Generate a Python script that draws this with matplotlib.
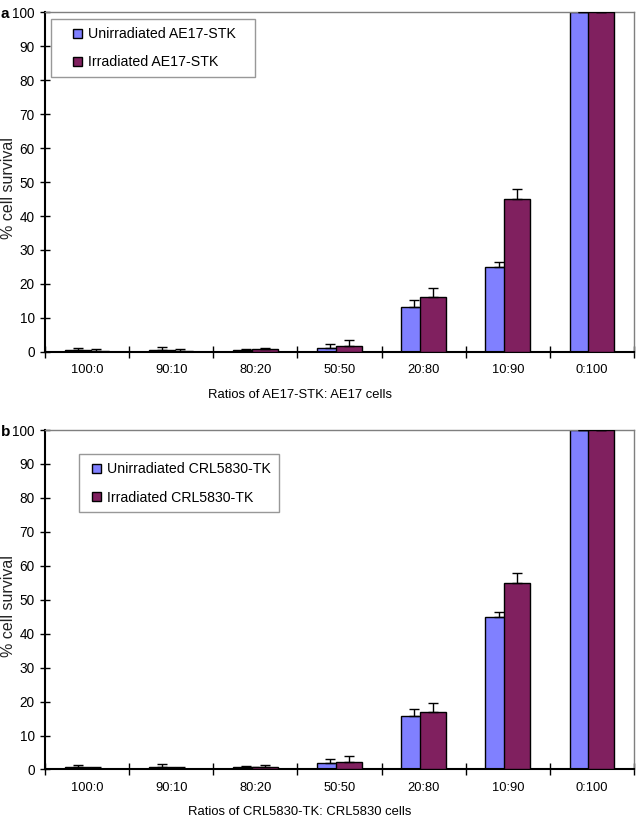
import numpy as np
import matplotlib
matplotlib.use('Agg')
import matplotlib.pyplot as plt
from matplotlib.patches import Patch, Rectangle
from matplotlib.legend_handler import HandlerPatch

plt.rcParams['font.family'] = ['Liberation Sans', 'DejaVu Sans']

# ratios on the x axis (same for both panels)
ratios = ['100:0', '90:10', '80:20', '50:50', '20:80', '10:90', '0:100']

# panel a - AE17-STK
a_unirr = [0.7, 0.7, 0.7, 1.2, 13.1, 25.1, 100]
a_unirr_err = [0.6, 0.9, 0.2, 1.2, 2.1, 1.5, 0]
a_irr = [0.2, 0.2, 0.8, 1.7, 16.3, 45.0, 100]
a_irr_err = [0.6, 0.6, 0.5, 1.7, 2.4, 2.8, 0]

# panel b - CRL5830-TK
b_unirr = [0.7, 0.7, 0.7, 2.0, 15.7, 45.0, 100]
b_unirr_err = [0.6, 0.9, 0.2, 1.2, 2.0, 1.5, 0]
b_irr = [0.2, 0.2, 0.8, 2.3, 17.0, 55.0, 100]
b_irr_err = [0.6, 0.6, 0.5, 1.7, 2.6, 2.8, 0]

blue = '#8080ff'
maroon = '#80205f'


# small square legend key sitting at the right end of the handle box
def square_key(legend, orig_handle, xdescent, ydescent, width, height, fontsize):
    s = 9 * 72 / 100.0
    return Rectangle((width - s - xdescent, (height - s) / 2 - ydescent), s, s)


def draw_panel(ax, unirr, unirr_err, irr, irr_err, labels, xlabel, legend_pos,
               letter, hlen, tail):
    x = np.arange(len(ratios))
    w = 0.31
    off = 0.11
    zero = np.zeros(len(x))

    # blue bars first, maroon drawn on top (overlapping like excel)
    ax.bar(x - off, unirr, w, color=blue, edgecolor='black', linewidth=1.0, zorder=2)
    ax.errorbar(x - off, unirr, yerr=[zero, unirr_err], fmt='none', ecolor='black',
                elinewidth=1.0, capsize=3.5, capthick=1.0, zorder=3)
    ax.bar(x + off, irr, w, color=maroon, edgecolor='black', linewidth=1.0, zorder=4)
    ax.errorbar(x + off, irr, yerr=[zero, irr_err], fmt='none', ecolor='black',
                elinewidth=1.0, capsize=3.5, capthick=1.0, zorder=5)

    ax.set_xlim(-0.5, len(ratios) - 0.5)
    ax.set_ylim(0, 100)
    ax.set_yticks(np.arange(0, 101, 10))
    ax.tick_params(axis='y', direction='inout', length=7, width=1, labelsize=9.8, pad=4)

    # ticks at the category boundaries, labels in the middle
    ax.set_xticks(np.arange(-0.5, len(ratios), 1.0))
    ax.set_xticklabels([])
    ax.set_xticks(x, minor=True)
    ax.set_xticklabels(ratios, minor=True)
    ax.tick_params(axis='x', which='major', direction='inout', length=8, width=1)
    ax.tick_params(axis='x', which='minor', length=0, labelsize=9.3, pad=9)

    for s in ['left', 'bottom']:
        ax.spines[s].set_color('black')
        ax.spines[s].set_linewidth(1.5)
    for s in ['top', 'right']:
        ax.spines[s].set_color('#7f7f7f')
        ax.spines[s].set_linewidth(1.0)

    ax.set_ylabel('% cell survival', fontsize=11.5, color='#222222')
    ax.yaxis.set_label_coords(-0.050, 0.482)
    ax.set_xlabel(xlabel, fontsize=9.4)
    ax.xaxis.set_label_coords(0.433, -0.108)

    handles = [Patch(facecolor=blue, edgecolor='black', linewidth=1.0),
               Patch(facecolor=maroon, edgecolor='black', linewidth=1.0)]
    leg = ax.legend(handles, [l + tail for l in labels], loc='upper left',
                    bbox_to_anchor=legend_pos, fontsize=10.2, frameon=True,
                    fancybox=False, borderaxespad=0,
                    handler_map={Patch: HandlerPatch(patch_func=square_key)},
                    handlelength=hlen, handleheight=0.7, handletextpad=0.42,
                    labelspacing=1.0, borderpad=0.56)
    leg.get_frame().set_edgecolor('#7f7f7f')
    leg.get_frame().set_linewidth(1.0)

    ax.text(-0.075, 0.995, letter, transform=ax.transAxes, fontsize=11,
            fontweight='bold', va='center', ha='left')


fig = plt.figure(figsize=(6.38, 8.18), dpi=100)
ax1 = fig.add_axes([0.0705, 0.5697, 0.9232, 0.4156])
ax2 = fig.add_axes([0.0705, 0.0593, 0.9232, 0.4150])

draw_panel(ax1, a_unirr, a_unirr_err, a_irr, a_irr_err,
           ['Unirradiated AE17-STK', 'Irradiated AE17-STK'],
           'Ratios of AE17-STK: AE17 cells', (0.0097, 0.979), 'a', 1.62, '   ')
draw_panel(ax2, b_unirr, b_unirr_err, b_irr, b_irr_err,
           ['Unirradiated CRL5830-TK', 'Irradiated CRL5830-TK'],
           'Ratios of CRL5830-TK: CRL5830 cells', (0.058, 0.928), 'b', 1.0, '')

fig.savefig('out.png', dpi=100)
